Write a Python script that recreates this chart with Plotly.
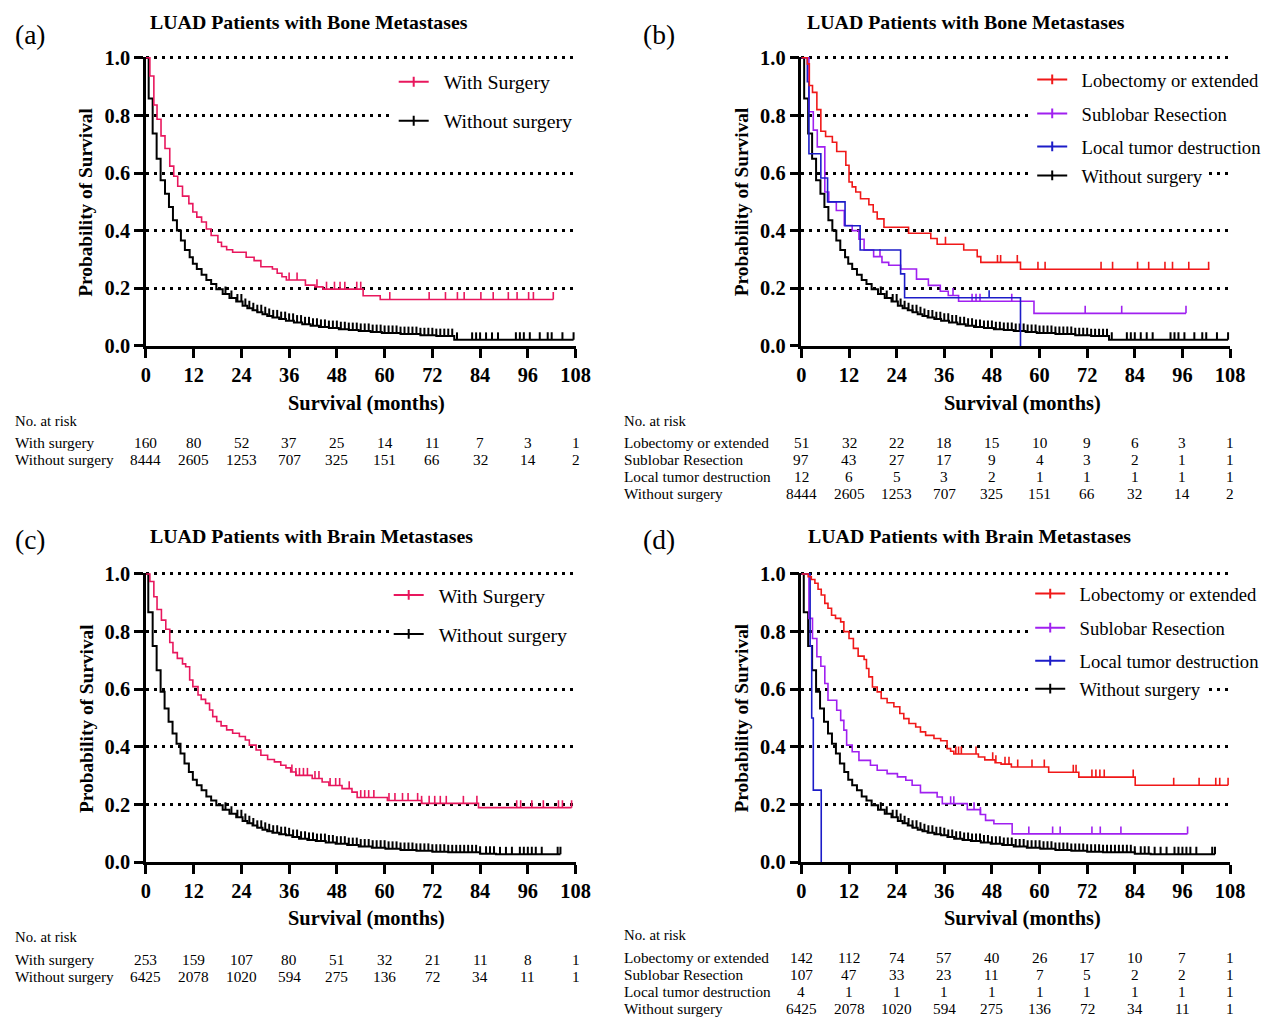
import plotly.graph_objects as go

FONT = "Liberation Serif"
W, H = 1269, 1017

# ---------------- data ----------------
tick_months = [0, 12, 24, 36, 48, 60, 72, 84, 96, 108]
surv_ticks = [0.0, 0.2, 0.4, 0.6, 0.8, 1.0]
surv_ticktext = ["0.0", "0.2", "0.4", "0.6", "0.8", "1.0"]

# Bone metastases: without surgery (panels a, b)
bone_wo_t = [0, 0.7, 1.7, 2.7, 3.7, 4.8, 5.8, 6.8, 7.8, 8.8, 9.8, 11.0, 11.8, 12.8, 14.0, 15.2, 16.4, 17.7,
             19.3, 21.0, 22.7, 24.3, 25.5, 26.8, 28.0, 29.3, 30.5, 31.8, 33.5, 35.2, 37.2, 39.3, 41.4, 43.5,
             46.0, 48.5, 51.0, 53.5, 56.5, 59.3, 64.0, 69.0, 73.0, 77.5, 107.5]
bone_wo_s = [1.0, 0.859, 0.737, 0.650, 0.575, 0.528, 0.482, 0.436, 0.401, 0.366, 0.333, 0.308, 0.285, 0.267,
             0.247, 0.229, 0.215, 0.197, 0.180, 0.166, 0.154, 0.139, 0.131, 0.124, 0.117, 0.110, 0.104, 0.099,
             0.093, 0.087, 0.081, 0.075, 0.070, 0.066, 0.062, 0.058, 0.055, 0.052, 0.048, 0.045, 0.041, 0.037,
             0.034, 0.021, 0.021]
bone_wo_cens = [20, 21.5, 23, 24, 25, 26, 27, 28, 29, 30, 31, 32, 33, 34, 35, 36, 37, 38, 39, 40, 41, 42, 43,
                44, 45, 46, 47, 48, 49, 50, 51, 52, 53, 54, 55, 56, 57, 58, 59, 60, 61, 62, 63, 64, 65, 66, 67,
                68, 69, 70, 71, 72, 73, 74, 75, 76, 77, 78.2, 82, 83, 84, 85.5, 87, 88.5, 93, 94, 95, 96.5, 99,
                101, 102, 104.7, 107.5]

# Panel a: with surgery (bone)
bone_ws_t = [0, 1.0, 2.0, 2.8, 3.8, 4.8, 6.0, 7.0, 8.0, 9.2, 10.8, 11.8, 12.8, 14.0, 15.2, 16.4, 18.1, 19.0,
             20.3, 21.8, 25.2, 27.2, 28.9, 31.8, 33.0, 34.2, 35.3, 40.1, 42.5, 44.5, 54.6, 58.9, 102.4]
bone_ws_s = [1.0, 0.937, 0.836, 0.787, 0.729, 0.685, 0.624, 0.589, 0.554, 0.520, 0.494, 0.465, 0.447, 0.430,
             0.406, 0.383, 0.360, 0.345, 0.334, 0.325, 0.308, 0.296, 0.275, 0.267, 0.252, 0.240, 0.229, 0.211,
             0.205, 0.197, 0.174, 0.161, 0.161]
bone_ws_cens = [36, 38, 43, 45.4, 47.4, 48.8, 50, 53, 54, 61.3, 71.2, 75.3, 78.3, 80, 84.2, 87.3, 91.1, 93.3,
                96.2, 97.4, 102.4]

# Panel b: surgery types (bone)
bone_lob_t = [0, 1.5, 2.0, 2.8, 3.9, 4.9, 6.1, 7.8, 8.9, 11.2, 12.0, 12.8, 13.7, 14.9, 17.0, 18.1, 19.1, 20.8,
              27.0, 32.6, 34.2, 40.9, 44.3, 45.2, 55.2, 102.8]
bone_lob_s = [1.0, 0.979, 0.904, 0.880, 0.820, 0.745, 0.727, 0.707, 0.675, 0.627, 0.569, 0.552, 0.534, 0.511,
              0.490, 0.465, 0.441, 0.412, 0.391, 0.373, 0.353, 0.333, 0.310, 0.290, 0.266, 0.266]
bone_lob_cens = [36.3, 49.4, 50.2, 54.4, 59.6, 61.4, 75.5, 78.4, 84.7, 87.5, 91.6, 93.5, 97.6, 102.6]

bone_sub_t = [0, 1.9, 3.0, 4.0, 5.9, 6.9, 8.8, 10.8, 12.8, 14.5, 15.8, 18.2, 20.3, 22.0, 25.0, 29.0, 32.0,
              35.0, 37.0, 39.6, 58.6, 96.9]
bone_sub_s = [1.0, 0.813, 0.749, 0.691, 0.534, 0.500, 0.470, 0.418, 0.400, 0.370, 0.333, 0.310, 0.290, 0.280,
              0.267, 0.232, 0.210, 0.190, 0.175, 0.155, 0.113, 0.113]
bone_sub_cens = [19.8, 38.2, 43.0, 44.0, 45.0, 53.0, 71.5, 80.7, 96.9]

bone_loc_t = [0, 1.5, 1.9, 4.9, 6.6, 11.0, 14.8, 25.0, 26.0, 55.2]
bone_loc_s = [1.0, 0.917, 0.667, 0.583, 0.500, 0.417, 0.333, 0.250, 0.167, 0.0]
bone_loc_cens = [47.3]

# Brain metastases: without surgery (panels c, d)
brain_wo_t = [0, 0.6, 1.7, 2.7, 3.7, 4.7, 5.7, 6.7, 7.7, 8.7, 9.7, 10.8, 11.8, 12.8, 14.0, 15.2, 16.4, 17.7,
              19.3, 21.0, 22.7, 24.3, 25.5, 26.8, 28.0, 29.3, 30.5, 31.8, 33.5, 35.2, 36.8, 38.5, 40.6, 42.7,
              45.2, 47.7, 50.6, 53.5, 56.8, 60.2, 64.0, 68.0, 72.0, 76.0, 84.0, 88.0, 104.2]
brain_wo_s = [1.0, 0.867, 0.750, 0.666, 0.591, 0.533, 0.487, 0.446, 0.411, 0.377, 0.342, 0.313, 0.286, 0.267,
              0.249, 0.228, 0.214, 0.197, 0.182, 0.168, 0.156, 0.143, 0.135, 0.127, 0.119, 0.112, 0.107, 0.102,
              0.097, 0.093, 0.087, 0.081, 0.077, 0.073, 0.068, 0.064, 0.059, 0.054, 0.050, 0.046, 0.042, 0.039,
              0.036, 0.034, 0.029, 0.027, 0.027]
brain_wo_cens = [20, 21.5, 23, 24, 25, 26, 27, 28, 29, 30, 31, 32, 33, 34, 35, 36, 37, 38, 39, 40, 41, 42, 43,
                 44, 45, 46, 47, 48, 49, 50, 51, 52, 53, 54, 55, 56, 57, 58, 59, 60, 61, 62, 63, 64, 65, 66, 67,
                 68, 69, 70, 71, 72, 73, 74, 75, 76, 77, 78, 79, 80, 81, 82, 83, 84, 85.5, 86.5, 87.5, 89, 90.5,
                 92, 94, 95, 96, 97, 98, 99.5, 103.5, 104.2]

# Panel c: with surgery (brain)
brain_ws_t = [0, 1.0, 2.0, 2.8, 3.9, 5.0, 6.0, 6.8, 7.9, 9.2, 10.0, 11.0, 11.8, 13.1, 13.9, 15.0, 16.0, 16.8,
              17.8, 18.9, 20.3, 21.8, 23.5, 25.0, 26.0, 27.7, 28.9, 30.6, 32.3, 33.9, 35.2, 36.4, 37.7, 41.8,
              44.3, 46.0, 49.3, 51.8, 53.1, 60.7, 69.3, 83.6, 107.0]
brain_ws_s = [1.0, 0.974, 0.921, 0.877, 0.840, 0.808, 0.762, 0.727, 0.707, 0.688, 0.678, 0.632, 0.609, 0.580,
              0.565, 0.551, 0.528, 0.505, 0.488, 0.473, 0.459, 0.447, 0.436, 0.424, 0.406, 0.389, 0.371, 0.356,
              0.348, 0.336, 0.327, 0.313, 0.301, 0.290, 0.278, 0.266, 0.255, 0.243, 0.224, 0.214, 0.204, 0.189,
              0.189]
brain_ws_cens = [36.7, 37.7, 38.6, 39.6, 40.6, 42.5, 43.5, 46.3, 47.7, 48.7, 51.1, 54.0, 55.0, 56.0, 57.3,
                 61.1, 62.6, 64.5, 65.9, 68.3, 69.3, 71.2, 72.6, 74.0, 75.5, 79.8, 83.2, 93.2, 94.2, 97.0,
                 99.9, 103.7, 104.7, 107.0]

# Panel d: surgery types (brain)
brain_lob_t = [0, 1.7, 2.5, 3.4, 4.2, 5.0, 5.9, 6.7, 7.6, 8.6, 9.9, 10.7, 12.0, 13.1, 14.3, 15.8, 16.4, 17.0,
               17.9, 19.1, 20.1, 21.6, 23.3, 24.8, 25.8, 27.1, 28.8, 30.0, 31.3, 33.4, 35.1, 36.7, 37.6, 38.4,
               44.6, 46.2, 48.8, 50.3, 52.9, 62.3, 69.9, 84.1, 107.5]
brain_lob_s = [1.0, 0.991, 0.981, 0.968, 0.947, 0.927, 0.898, 0.881, 0.857, 0.846, 0.834, 0.800, 0.776, 0.742,
               0.715, 0.703, 0.672, 0.643, 0.608, 0.591, 0.568, 0.553, 0.539, 0.516, 0.498, 0.481, 0.469, 0.452,
               0.440, 0.429, 0.421, 0.394, 0.385, 0.375, 0.365, 0.355, 0.345, 0.340, 0.330, 0.312, 0.295, 0.267,
               0.267]
brain_lob_cens = [38.9, 39.6, 40.3, 44.0, 48.2, 49.0, 51.3, 52.3, 54.5, 58.1, 61.2, 68.5, 69.2, 73.2, 74.2,
                  75.2, 76.3, 83.6, 93.8, 100.2, 104.4, 105.4, 107.5]

brain_sub_t = [0, 1.9, 2.8, 3.9, 4.9, 5.9, 6.7, 8.9, 9.9, 10.7, 11.4, 12.8, 14.5, 17.4, 19.1, 21.6, 24.2, 26.3,
               27.9, 30.0, 34.2, 35.5, 41.8, 45.1, 46.4, 48.5, 53.1, 97.3]
brain_sub_s = [1.0, 0.846, 0.776, 0.713, 0.680, 0.620, 0.562, 0.527, 0.492, 0.458, 0.406, 0.383, 0.353, 0.336,
               0.319, 0.307, 0.296, 0.284, 0.267, 0.241, 0.226, 0.203, 0.182, 0.165, 0.145, 0.133, 0.098, 0.098]
brain_sub_cens = [37.6, 38.4, 43.5, 45.1, 57.3, 63.3, 65.2, 73.2, 75.3, 80.5, 97.3]

brain_loc_t = [0, 2.2, 2.6, 3.0, 5.0]
brain_loc_s = [1.0, 0.75, 0.5, 0.25, 0.0]
brain_loc_cens = []

# Number-at-risk tables
risk_a_labels = ["With surgery", "Without surgery"]
risk_a = [[160, 80, 52, 37, 25, 14, 11, 7, 3, 1],
          [8444, 2605, 1253, 707, 325, 151, 66, 32, 14, 2]]
risk_b_labels = ["Lobectomy or extended", "Sublobar Resection", "Local tumor destruction", "Without surgery"]
risk_b = [[51, 32, 22, 18, 15, 10, 9, 6, 3, 1],
          [97, 43, 27, 17, 9, 4, 3, 2, 1, 1],
          [12, 6, 5, 3, 2, 1, 1, 1, 1, 1],
          [8444, 2605, 1253, 707, 325, 151, 66, 32, 14, 2]]
risk_c_labels = ["With surgery", "Without surgery"]
risk_c = [[253, 159, 107, 80, 51, 32, 21, 11, 8, 1],
          [6425, 2078, 1020, 594, 275, 136, 72, 34, 11, 1]]
risk_d_labels = ["Lobectomy or extended", "Sublobar Resection", "Local tumor destruction", "Without surgery"]
risk_d = [[142, 112, 74, 57, 40, 26, 17, 10, 7, 1],
          [107, 47, 33, 23, 11, 7, 5, 2, 2, 1],
          [4, 1, 1, 1, 1, 1, 1, 1, 1, 1],
          [6425, 2078, 1020, 594, 275, 136, 72, 34, 11, 1]]

# ---------------- styles ----------------
C_PINK = "#E8175D"
C_RED = "#F01818"
C_PURPLE = "#A020F0"
C_BLUE = "#1C1CC8"
C_BLACK = "#000000"
TICK_H = 0.026
Y_TOP = 1.004

# mapping from reference-pixel positions to figure pixels (compensates page offset/scale)
SX, OX, SY, OY = 0.985, 12.0, 0.979, 18.2
FS = 1.0 / 0.982


def fx(px):
    return (px - OX) / SX


def fy(py):
    return (py - OY) / SY


def px2paper_x(px):
    return fx(px) / W


def px2paper_y(py):
    return 1 - fy(py) / H


fig = go.Figure()


def step_value(t_arr, s_arr, t):
    v = s_arr[0]
    for ti, si in zip(t_arr, s_arr):
        if ti <= t:
            v = si
        else:
            break
    return v


def add_curve(t_arr, s_arr, cens, color, width, xa, ya):
    fig.add_trace(go.Scatter(x=t_arr, y=s_arr, mode="lines", line=dict(shape="hv", color=color, width=width),
                             xaxis=xa, yaxis=ya, showlegend=False, hoverinfo="skip"))
    xs, ys = [], []
    for c in cens:
        v = step_value(t_arr, s_arr, c)
        xs += [c, c, None]
        ys += [v, v + TICK_H, None]
    if xs:
        fig.add_trace(go.Scatter(x=xs, y=ys, mode="lines", line=dict(color=color, width=width),
                                 xaxis=xa, yaxis=ya, showlegend=False, hoverinfo="skip"))


def add_legend_entry(name, color, legend_id, xa, ya):
    fig.add_trace(go.Scatter(x=[None], y=[None], mode="lines+markers", name="\u00a0\u00a0" + name,
                             line=dict(color=color, width=2),
                             marker=dict(symbol="line-ns", size=7, color=color, line=dict(color=color, width=2)),
                             legend=legend_id, xaxis=xa, yaxis=ya, hoverinfo="skip"))


# panel geometry (reference pixels)
panels = {
    "a": dict(xa="x", ya="y", x0=145, x1=575, ytop=58, ybot=346),
    "b": dict(xa="x2", ya="y2", x0=801, x1=1230, ytop=58, ybot=346),
    "c": dict(xa="x3", ya="y3", x0=145, x1=575, ytop=574, ybot=862),
    "d": dict(xa="x4", ya="y4", x0=801, x1=1230, ytop=574, ybot=862),
}

pa, pb, pc, pd = panels["a"], panels["b"], panels["c"], panels["d"]
add_curve(bone_wo_t, bone_wo_s, bone_wo_cens, C_BLACK, 2.0, pa["xa"], pa["ya"])
add_curve(bone_ws_t, bone_ws_s, bone_ws_cens, C_PINK, 1.6, pa["xa"], pa["ya"])

add_curve(bone_wo_t, bone_wo_s, bone_wo_cens, C_BLACK, 2.0, pb["xa"], pb["ya"])
add_curve(bone_sub_t, bone_sub_s, bone_sub_cens, C_PURPLE, 1.6, pb["xa"], pb["ya"])
add_curve(bone_loc_t, bone_loc_s, bone_loc_cens, C_BLUE, 1.6, pb["xa"], pb["ya"])
add_curve(bone_lob_t, bone_lob_s, bone_lob_cens, C_RED, 1.6, pb["xa"], pb["ya"])

add_curve(brain_wo_t, brain_wo_s, brain_wo_cens, C_BLACK, 2.0, pc["xa"], pc["ya"])
add_curve(brain_ws_t, brain_ws_s, brain_ws_cens, C_PINK, 1.6, pc["xa"], pc["ya"])

add_curve(brain_wo_t, brain_wo_s, brain_wo_cens, C_BLACK, 2.0, pd["xa"], pd["ya"])
add_curve(brain_sub_t, brain_sub_s, brain_sub_cens, C_PURPLE, 1.6, pd["xa"], pd["ya"])
add_curve(brain_loc_t, brain_loc_s, brain_loc_cens, C_BLUE, 1.6, pd["xa"], pd["ya"])
add_curve(brain_lob_t, brain_lob_s, brain_lob_cens, C_RED, 1.6, pd["xa"], pd["ya"])

# legends: (name, color, left px, center y px, panel, font size)
legend_items = [
    ("With Surgery", C_PINK, 393, 82, "a", 19.5),
    ("Without surgery", C_BLACK, 393, 121, "a", 19.5),
    ("Lobectomy or extended", C_RED, 1032, 80, "b", 18.3),
    ("Sublobar Resection", C_PURPLE, 1032, 114, "b", 18.3),
    ("Local tumor destruction", C_BLUE, 1032, 147, "b", 18.3),
    ("Without surgery", C_BLACK, 1032, 176, "b", 18.3),
    ("With Surgery", C_PINK, 388, 595, "c", 19.5),
    ("Without surgery", C_BLACK, 388, 634, "c", 19.5),
    ("Lobectomy or extended", C_RED, 1030, 594, "d", 18.3),
    ("Sublobar Resection", C_PURPLE, 1030, 628, "d", 18.3),
    ("Local tumor destruction", C_BLUE, 1030, 661, "d", 18.3),
    ("Without surgery", C_BLACK, 1030, 689, "d", 18.3),
]

layout_legends = {}
for i, (name, color, lx, ly, pk, fsz) in enumerate(legend_items):
    lid = "legend" if i == 0 else "legend%d" % (i + 1)
    add_legend_entry(name, color, lid, panels[pk]["xa"], panels[pk]["ya"])
    layout_legends[lid] = dict(x=px2paper_x(lx), y=px2paper_y(ly), xanchor="left", yanchor="middle",
                               xref="paper", yref="paper", bgcolor="white", borderwidth=0,
                               font=dict(family=FONT, size=fsz * FS, color="black"),
                               itemwidth=30, tracegroupgap=0)

# axes
axis_font = dict(family=FONT, size=20 * FS, color="black", weight="bold")
layout_axes = {}
for k, (pk, p) in enumerate(panels.items()):
    sfx = "" if k == 0 else str(k + 1)
    top_px = p["ytop"] - (Y_TOP - 1.0) * (p["ybot"] - p["ytop"])
    layout_axes["xaxis" + sfx] = dict(
        domain=[px2paper_x(p["x0"]), px2paper_x(p["x1"])], range=[0, 108], anchor="y" + sfx,
        tickvals=tick_months, ticks="outside", ticklen=9, tickwidth=2.5, tickcolor="black",
        showline=True, linewidth=2.5, linecolor="black", showgrid=False, zeroline=False,
        tickfont=axis_font, fixedrange=True)
    layout_axes["yaxis" + sfx] = dict(
        domain=[px2paper_y(p["ybot"]), px2paper_y(top_px)], range=[0, Y_TOP], anchor="x" + sfx,
        tickvals=surv_ticks, ticktext=surv_ticktext, ticks="outside", ticklen=9, tickwidth=2.5,
        tickcolor="black", showline=True, linewidth=2.5, linecolor="black",
        showgrid=True, gridcolor="black", gridwidth=2.5, griddash="3px,5px", zeroline=False,
        tickfont=axis_font, fixedrange=True)

# annotations
ann = []


def txt(text, x, y, size, bold=False, xanchor="center", angle=0, xref="paper", xval=None, yanchor="middle"):
    yv = px2paper_y(y) if y is not None else 1.0
    ann.append(dict(text=text, x=(max(px2paper_x(x), 0) if xval is None else xval), y=min(yv, 1.0),
                    xref=xref, yref="paper", showarrow=False, xanchor=xanchor, yanchor=yanchor,
                    textangle=angle,
                    font=dict(family=FONT, size=size * FS, color="black",
                              weight=("bold" if bold else "normal"))))


titles = [("(a)", 10, None, "LUAD Patients with Bone Metastases", 308, 22),
          ("(b)", 640, None, "LUAD Patients with Bone Metastases", 966, 22),
          ("(c)", 10, 540, "LUAD Patients with Brain Metastases", 311, 536),
          ("(d)", 640, 540, "LUAD Patients with Brain Metastases", 969, 536)]
for lab, lx, ly, title, tx, ty in titles:
    if ly is None:
        txt(lab, lx, None, 27, xanchor="left", yanchor="top")
    else:
        txt(lab, lx, ly, 27, xanchor="left")
    txt(title, tx, ty, 19.5, bold=True)

axis_titles = [(366, 404, 85, 202), (1022, 404, 741, 202), (366, 918, 85, 718), (1022, 918, 741, 718)]
for xt_x, xt_y, yt_x, yt_y in axis_titles:
    txt("Survival (months)", xt_x, xt_y, 20, bold=True)
    txt("Probability of Survival", yt_x, yt_y, 19, bold=True, angle=-90)

risk_specs = [("x", 8, 421, risk_a_labels, risk_a),
              ("x2", 621, 421, risk_b_labels, risk_b),
              ("x3", 8, 937, risk_c_labels, risk_c),
              ("x4", 621, 935, risk_d_labels, risk_d)]
for xr, lx, hy, labels, rows in risk_specs:
    txt("No. at risk", lx, hy, 14.5, xanchor="left")
    for r, (lab, vals) in enumerate(zip(labels, rows)):
        ry = hy + 22 + r * 17
        txt(lab, lx, ry, 15, xanchor="left")
        for m, v in zip(tick_months, vals):
            txt(str(v), 0, ry, 15, xref=xr, xval=m)

fig.update_layout(width=W, height=H, margin=dict(l=0, r=0, t=0, b=0), paper_bgcolor="white",
                  plot_bgcolor="white", annotations=ann, showlegend=True, **layout_axes, **layout_legends)

fig.write_html("out.html")
